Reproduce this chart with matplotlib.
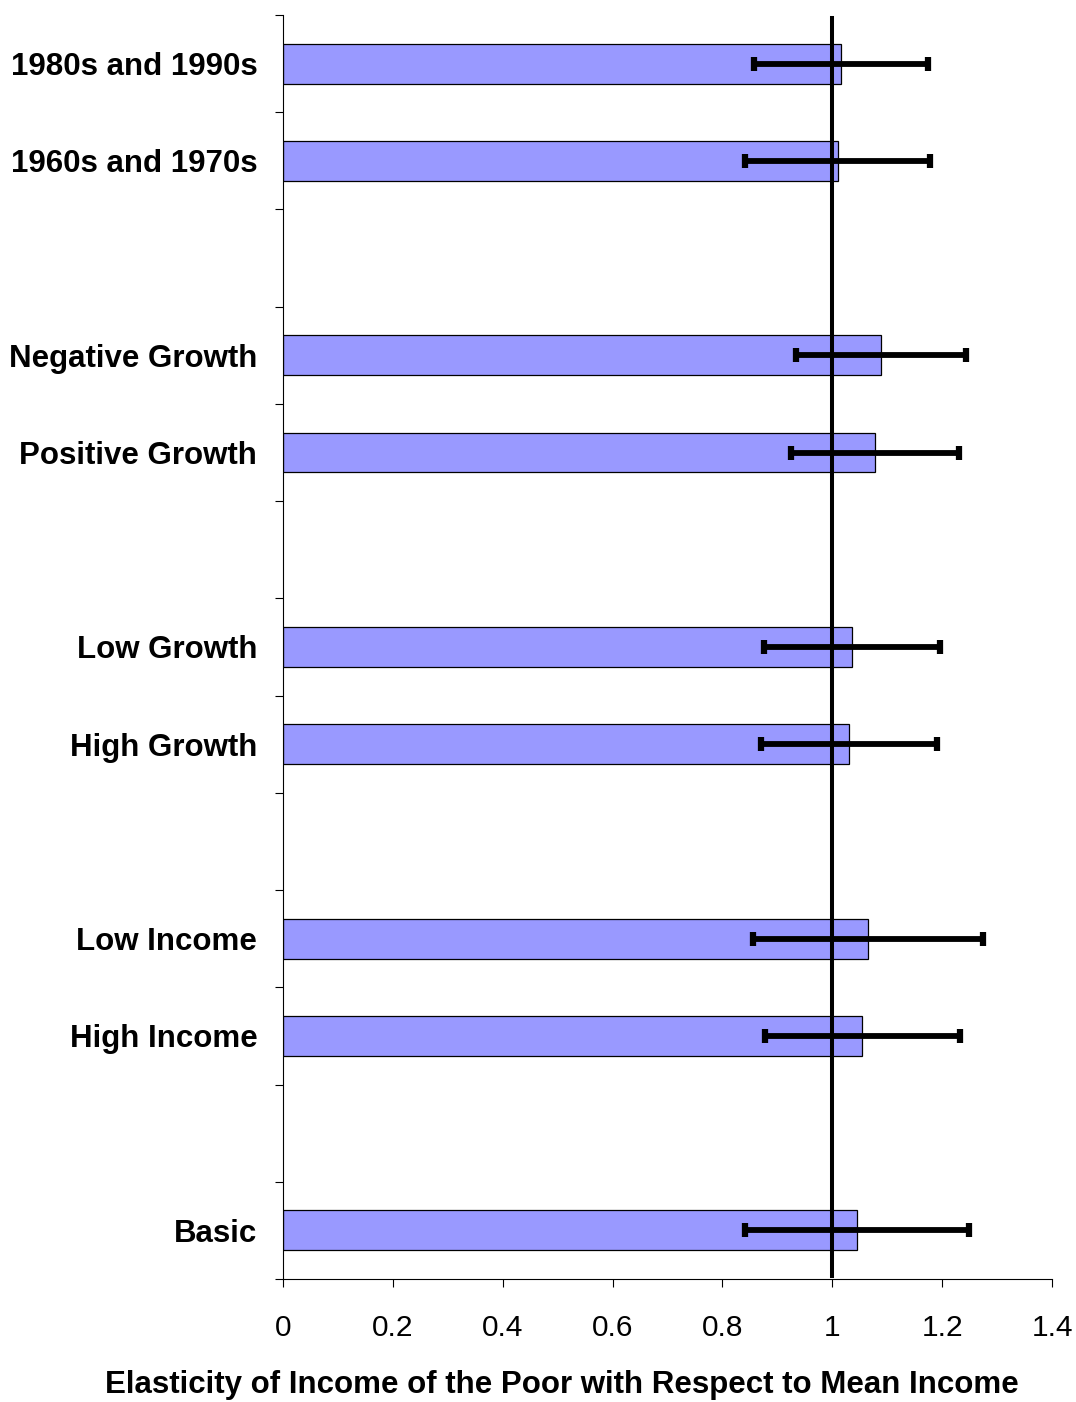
import matplotlib.pyplot as plt
import numpy as np

# Data (top to bottom, blank slots are gaps between groups)
labels = ["1980s and 1990s", "1960s and 1970s", "",
          "Negative Growth", "Positive Growth", "",
          "Low Growth", "High Growth", "",
          "Low Income", "High Income", "",
          "Basic"]
elasticity = [1.016, 1.010, np.nan,
              1.089, 1.078, np.nan,
              1.036, 1.030, np.nan,
              1.065, 1.055, np.nan,
              1.045]
err = [0.158, 0.168, np.nan,
       0.155, 0.153, np.nan,
       0.160, 0.160, np.nan,
       0.209, 0.177, np.nan,
       0.204]

fig = plt.figure(figsize=(10.76, 14.02), dpi=100)
ax = fig.add_axes([283/1076, 1 - 1279/1402, (1052-283)/1076, (1279-15)/1402])

pos = np.arange(len(labels))
vals = np.array(elasticity)
errs = np.array(err)
ok = ~np.isnan(vals)

ax.barh(pos[ok], vals[ok], height=0.41, color='#9999FF', edgecolor='black', linewidth=0.9)
ax.errorbar(vals[ok], pos[ok], xerr=errs[ok], fmt='none', ecolor='black',
            elinewidth=4.2, capsize=5, capthick=4.5)
ax.axvline(1.0, ymin=0.002, ymax=0.998, color='black', linewidth=2.9)

ax.set_xlim(0, 1.4)
ax.set_ylim(len(labels) - 0.5, -0.5)

# category boundaries get the tick marks, centres get the labels
ax.set_yticks(np.arange(len(labels) + 1) - 0.5)
ax.set_yticklabels([])
ax.set_yticks(pos, minor=True)
ax.set_yticklabels(labels, minor=True, fontsize=22.5, fontweight='bold',
                   family=['Liberation Sans', 'DejaVu Sans'])
ax.tick_params(axis='y', which='major', length=6, width=0.8)
ax.tick_params(axis='y', which='minor', length=0, pad=18.5)

ax.set_xticks([0, 0.2, 0.4, 0.6, 0.8, 1.0, 1.2, 1.4])
ax.set_xticklabels(['0', '0.2', '0.4', '0.6', '0.8', '1', '1.2', '1.4'],
                   fontsize=21.5, family=['Liberation Sans', 'DejaVu Sans'])
ax.tick_params(axis='x', length=6, width=0.8, pad=19)

for s in ['top', 'right']:
    ax.spines[s].set_visible(False)
for s in ['left', 'bottom']:
    ax.spines[s].set_linewidth(0.8)

fig.text(562/1076, 1 - 1385/1402, 'Elasticity of Income of the Poor with Respect to Mean Income',
         ha='center', va='center', fontsize=22.5, fontweight='bold',
         family=['Liberation Sans', 'DejaVu Sans'])

plt.savefig('out.png', dpi=100)
